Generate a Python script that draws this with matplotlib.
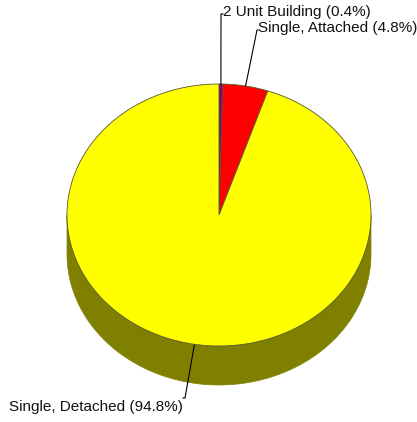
import matplotlib.pyplot as plt
import numpy as np
from matplotlib.patches import Polygon

labels = ["2 Unit Building", "Single, Attached", "Single, Detached"]
shares = [0.4, 4.8, 94.8]
top_colors = ["#800080", "#ff0000", "#ffff00"]
side_colors = ["#400040", "#800000", "#808000"]

plt.rcParams['font.family'] = ['Liberation Sans', 'DejaVu Sans']

fig = plt.figure(figsize=(4.17, 4.22), dpi=100)
ax = fig.add_axes([0, 0, 1, 1])
ax.set_xlim(0, 417)
ax.set_ylim(422, 0)
ax.axis('off')

cx, cy, rx, ry, depth = 219, 215, 152, 131, 39


def pt(theta):
    # theta in degrees, clockwise from 12 o'clock
    t = np.radians(theta)
    return cx + rx * np.sin(t), cy - ry * np.cos(t)


bounds = np.concatenate([[0], np.cumsum(shares)]) / sum(shares) * 360

# side walls (front half only: 90..270 deg)
for i in range(len(shares)):
    a0, a1 = max(bounds[i], 90), min(bounds[i + 1], 270)
    if a1 <= a0:
        continue
    th = np.linspace(a0, a1, 200)
    xs, ys = pt(th)
    poly = np.column_stack([np.concatenate([xs, xs[::-1]]),
                            np.concatenate([ys, ys[::-1] + depth])])
    ax.add_patch(Polygon(poly, closed=True, facecolor=side_colors[i],
                         edgecolor=side_colors[i], lw=0.5))

# top wedges
for i in range(len(shares)):
    th = np.linspace(bounds[i], bounds[i + 1], max(int(shares[i] * 10), 5))
    xs, ys = pt(th)
    poly = np.column_stack([np.concatenate([[cx], xs]), np.concatenate([[cy], ys])])
    ax.add_patch(Polygon(poly, closed=True, facecolor=top_colors[i],
                         edgecolor="#555530", lw=0.6))

# labels with leader lines
mids = (bounds[:-1] + bounds[1:]) / 2
label_pos = [(221, 14, 223, 'left'), (257, 30, 258, 'left'), (185, 398, 183, 'right')]
for i, lab in enumerate(labels):
    x0, y0 = pt(mids[i])
    if mids[i] > 90 and mids[i] < 270:
        y0 += 1
    lx, ly, tx, ha = label_pos[i]
    ax.plot([x0, lx, tx], [y0, ly, ly], color='black', lw=0.8)
    ax.text(tx, ly + (9 if i == 2 else -2), f"{lab} ({shares[i]:.1f}%)",
            ha=ha, va='center', fontsize=11, color='#111111')

fig.savefig("out.png", dpi=100)
